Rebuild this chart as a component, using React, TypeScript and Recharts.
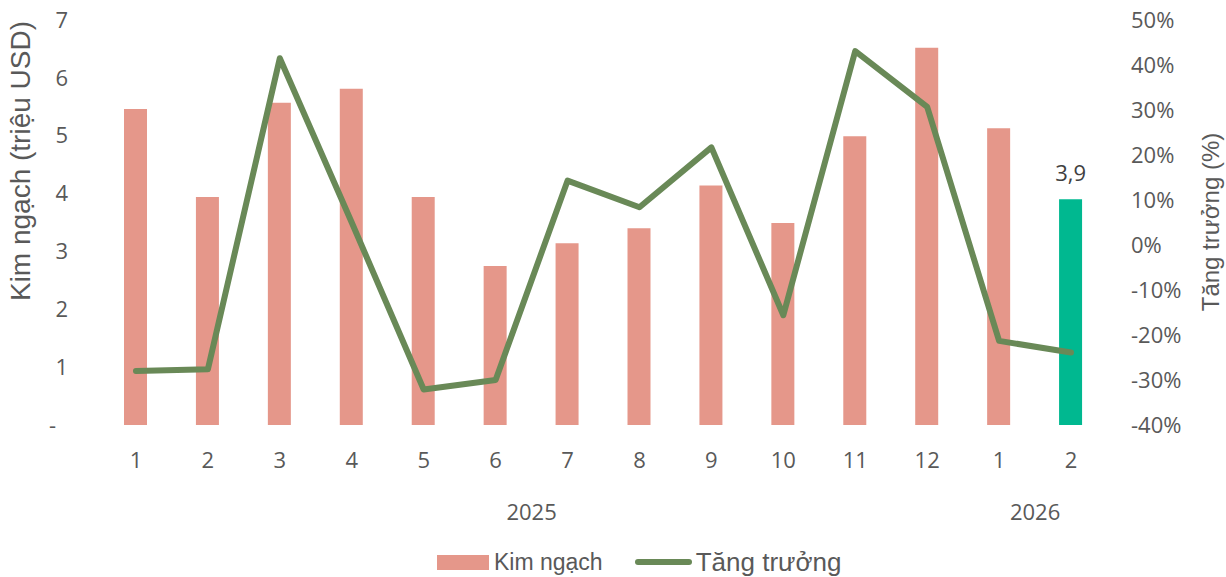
import React from "react";
import {
  Bar,
  Cell,
  ComposedChart,
  LabelList,
  Legend,
  Line,
  XAxis,
  YAxis,
} from "recharts";

const MONTHS = ["1", "2", "3", "4", "5", "6", "7", "8", "9", "10", "11", "12", "1", "2"];
const YEARS = [
  "2025", "2025", "2025", "2025", "2025", "2025", "2025", "2025", "2025", "2025", "2025", "2025",
  "2026", "2026",
];
const KIM_NGACH = [5.46, 3.94, 5.57, 5.81, 3.94, 2.75, 3.14, 3.4, 4.14, 3.49, 4.99, 6.52, 5.13, 3.9];
const TANG_TRUONG = [-28.0, -27.6, 41.5, 5.0, -32.1, -30.0, 14.3, 8.4, 21.7, -15.6, 43.1, 30.7, -21.3, -23.9];
const LEFT_TICKS = [0, 1, 2, 3, 4, 5, 6, 7];
const RIGHT_TICKS = [-40, -30, -20, -10, 0, 10, 20, 30, 40, 50];

const W = 1226;
const H = 577;
const LEFT_W = 100;
const RIGHT_W = 119;
const STEP = (W - LEFT_W - RIGHT_W) / MONTHS.length;

const TEXT = "#595959";
const BAR = "#E5978A";
const BAR_LAST = "#00B890";
const LINE = "#698957";
const TICK_FONT = "'Open Sans', sans-serif";
const TITLE_FONT = "'Liberation Sans', Arial, sans-serif";

const data = MONTHS.map((m, i) => ({
  month: m,
  year: YEARS[i],
  kimNgach: KIM_NGACH[i],
  tangTruong: TANG_TRUONG[i],
}));

function LeftTick(props: any) {
  const { x, y, payload } = props;
  const v = payload.value;
  return (
    <text
      x={v === 0 ? x - 12 : x}
      y={y}
      dy="0.35em"
      textAnchor="end"
      fill={TEXT}
      fontSize={22}
      fontFamily={TICK_FONT}
    >
      {v === 0 ? "-" : v}
    </text>
  );
}

// year label centred under its group of months
function YearTick(props: any) {
  const { x, y, index } = props;
  const yr = YEARS[index];
  const first = YEARS.indexOf(yr);
  const last = YEARS.lastIndexOf(yr);
  const mid = (first + last) / 2;
  if (index !== Math.floor(mid)) return null;
  const cx = x + (mid - index) * STEP;
  return (
    <text
      x={cx}
      y={y}
      dy="0.71em"
      textAnchor="middle"
      fill={TEXT}
      fontSize={22}
      fontFamily={TICK_FONT}
    >
      {yr}
    </text>
  );
}

function LastLabel(props: any) {
  const { x, y, width, value, index } = props;
  if (index !== KIM_NGACH.length - 1) return null;
  return (
    <text
      x={x + width / 2}
      y={y - 18}
      textAnchor="middle"
      fill="#404040"
      fontSize={22}
      fontFamily={TICK_FONT}
    >
      {String(value).replace(".", ",")}
    </text>
  );
}

function LegendBox() {
  return (
    <div
      style={{
        display: "flex",
        alignItems: "center",
        height: 30,
        paddingLeft: 437,
        color: TEXT,
        fontFamily: TITLE_FONT,
      }}
    >
      <span style={{ width: 52, height: 15, background: BAR, display: "inline-block" }} />
      <span style={{ fontSize: 23, marginLeft: 5 }}>Kim ngạch</span>
      <span
        style={{
          width: 57,
          height: 6,
          borderRadius: 3,
          background: LINE,
          display: "inline-block",
          marginLeft: 32,
        }}
      />
      <span style={{ fontSize: 26, marginLeft: 4 }}>Tăng trưởng</span>
    </div>
  );
}

export default function App() {
  return (
    <div style={{ position: "absolute", left: 0, top: 0, background: "#fff" }}>
      <ComposedChart
        width={W}
        height={H}
        data={data}
        margin={{ top: 20, right: 0, bottom: 0, left: 0 }}
        barCategoryGap={0}
      >
        <XAxis
          xAxisId="month"
          dataKey="month"
          height={60}
          axisLine={false}
          tickLine={false}
          interval={0}
          tickMargin={21}
          tick={{ fill: TEXT, fontSize: 22, fontFamily: TICK_FONT }}
        />
        <XAxis
          xAxisId="year"
          dataKey="year"
          height={62}
          axisLine={false}
          tickLine={false}
          interval={0}
          tickMargin={13}
          tick={<YearTick />}
        />
        <YAxis
          yAxisId="left"
          width={LEFT_W}
          domain={[0, 7]}
          ticks={LEFT_TICKS}
          axisLine={false}
          tickLine={false}
          tickMargin={26}
          tick={<LeftTick />}
          label={{
            content: () => (
              <text
                x={30}
                y={161}
                textAnchor="middle"
                transform="rotate(-90, 30, 161)"
                fill={TEXT}
                fontSize={28}
                fontFamily={TITLE_FONT}
              >
                Kim ngạch (triệu USD)
              </text>
            ),
          }}
        />
        <YAxis
          yAxisId="right"
          orientation="right"
          width={RIGHT_W}
          domain={[-40, 50]}
          ticks={RIGHT_TICKS}
          axisLine={false}
          tickLine={false}
          tickMargin={18}
          tickFormatter={(v: number) => `${v}%`}
          tick={{ fill: TEXT, fontSize: 22, fontFamily: TICK_FONT }}
          label={{
            content: () => (
              <text
                x={1219}
                y={222}
                textAnchor="middle"
                transform="rotate(-90, 1219, 222)"
                fill={TEXT}
                fontSize={24}
                fontFamily={TITLE_FONT}
              >
                Tăng trưởng (%)
              </text>
            ),
          }}
        />
        <Legend content={<LegendBox />} wrapperStyle={{ left: 0, bottom: 0, width: W, height: 30 }} />
        <Bar
          xAxisId="month"
          yAxisId="left"
          dataKey="kimNgach"
          name="Kim ngạch"
          barSize={23}
          fill={BAR}
          isAnimationActive={false}
        >
          {data.map((_, i) => (
            <Cell key={i} fill={i === data.length - 1 ? BAR_LAST : BAR} />
          ))}
          <LabelList dataKey="kimNgach" content={<LastLabel />} />
        </Bar>
        <Line
          xAxisId="month"
          yAxisId="right"
          dataKey="tangTruong"
          name="Tăng trưởng"
          stroke={LINE}
          strokeWidth={6}
          strokeLinejoin="round"
          strokeLinecap="round"
          dot={false}
          activeDot={false}
          isAnimationActive={false}
        />
      </ComposedChart>
    </div>
  );
}
